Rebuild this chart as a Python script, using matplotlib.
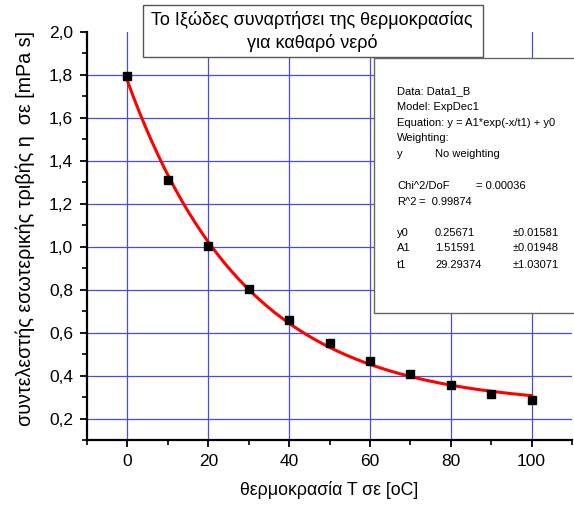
import matplotlib
matplotlib.use("Agg")
import matplotlib.pyplot as plt
import matplotlib.patches as mpatches
import numpy as np

plt.rcParams['font.family'] = ['Liberation Sans', 'DejaVu Sans']

# measured points: temperature (oC) vs viscosity (mPa s)
temp = [0, 10, 20, 30, 40, 50, 60, 70, 80, 90, 100]
visc = [1.795, 1.310, 1.005, 0.801, 0.657, 0.551, 0.470, 0.408, 0.358, 0.315, 0.284]

# ExpDec1 fit parameters shown in the stats box
fit_y0 = 0.25671
fit_A1 = 1.51591
fit_t1 = 29.29374

x_ticks = [0, 20, 40, 60, 80, 100]
y_ticks = [0.2, 0.4, 0.6, 0.8, 1.0, 1.2, 1.4, 1.6, 1.8, 2.0]
y_tick_labels = ['0,2', '0,4', '0,6', '0,8', '1,0', '1,2', '1,4', '1,6', '1,8', '2,0']

title_lines = ['Το Ιξώδες συναρτήσει της θερμοκρασίας', 'για καθαρό νερό']
x_label = 'θερμοκρασία T σε [oC]'
y_label = 'συντελεστής εσωτερικής τριβής η  σε [mPa s]'

W, H = 574, 508
fig = plt.figure(figsize=(W / 100, H / 100), dpi=100)
fig.patch.set_facecolor('white')


def fx(px):
    return px / W


def fy(py):
    return 1 - py / H


ax = fig.add_axes([fx(87), fy(440), fx(572) - fx(87), fy(32) - fy(440)])
ax.set_xlim(-10, 110)
ax.set_ylim(0.1, 2.0)

grid_col = '#4a4ae6'
for xv in x_ticks:
    ax.axvline(xv, color=grid_col, lw=0.9, zorder=1)
for yv in y_ticks[:-1]:
    ax.axhline(yv, color=grid_col, lw=0.9, zorder=1)

xf = np.linspace(0, 100, 200)
ax.plot(xf, fit_y0 + fit_A1 * np.exp(-xf / fit_t1), color='#ff0000', lw=2.2, zorder=3)
ax.plot(temp, visc, 's', color='black', ms=5.6, zorder=4)

ax.set_xticks(x_ticks)
ax.set_xticks(np.arange(-10, 111, 10), minor=True)
ax.set_yticks(y_ticks)
ax.set_yticklabels(y_tick_labels)
ax.set_yticks(np.arange(0.1, 2.01, 0.1), minor=True)

for s in ['top', 'right']:
    ax.spines[s].set_visible(False)
for s in ['left', 'bottom']:
    ax.spines[s].set_linewidth(1.6)
ax.tick_params(which='major', direction='out', length=5, width=1.3, labelsize=12.5, pad=5)
ax.tick_params(which='minor', direction='out', length=3.5, width=1.2)

ax.set_xlabel(x_label, fontsize=12.8, labelpad=9)
fig.text(fx(25), fy(229), y_label, rotation=90, ha='center', va='center', fontsize=14.2)

# title box
fig.patches.append(mpatches.Rectangle((fx(143), fy(57)), fx(483) - fx(143), fy(5) - fy(57),
                                      transform=fig.transFigure, facecolor='white',
                                      edgecolor='#555555', lw=1.0, zorder=5))
fig.text(fx(312), fy(20), title_lines[0], ha='center', va='center', fontsize=13, zorder=6)
fig.text(fx(312), fy(43), title_lines[1], ha='center', va='center', fontsize=13, zorder=6)

# stats box
fig.patches.append(mpatches.Rectangle((fx(374), fy(313)), fx(600) - fx(374), fy(58) - fy(313),
                                      transform=fig.transFigure, facecolor='white',
                                      edgecolor='#666666', lw=1.0, zorder=5))
stats = [
    (397, 91, 'Data: Data1_B'),
    (397, 107, 'Model: ExpDec1'),
    (397, 123, 'Equation: y = A1*exp(-x/t1) + y0'),
    (397, 138, 'Weighting:'),
    (397, 154, 'y'),
    (435, 154, 'No weighting'),
    (397, 186, 'Chi^2/DoF'),
    (476, 186, '= 0.00036'),
    (397, 202, 'R^2'),
    (419, 202, '=  0.99874'),
    (397, 233, 'y0'),
    (435, 233, '0.25671'),
    (513, 233, '\u00b10.01581'),
    (397, 248, 'A1'),
    (435, 248, '1.51591'),
    (513, 248, '\u00b10.01948'),
    (397, 265, 't1'),
    (435, 265, '29.29374'),
    (513, 265, '\u00b11.03071'),
]
for px, py, txt in stats:
    fig.text(fx(px), fy(py), txt, ha='left', va='center', fontsize=8.0, zorder=6)

fig.savefig('out.png', dpi=100)
